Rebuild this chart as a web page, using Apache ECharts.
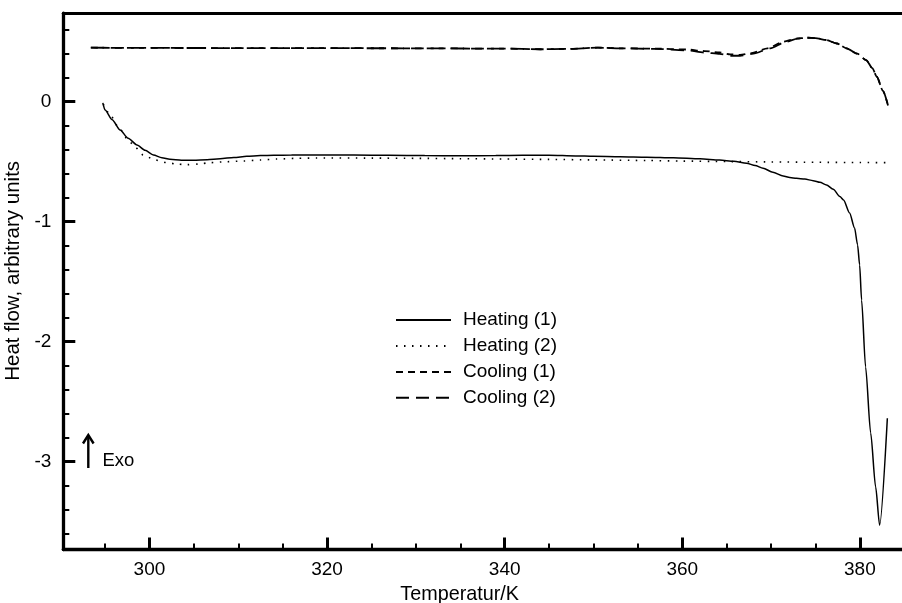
<!DOCTYPE html>
<html>
<head>
<meta charset="utf-8">
<script src="https://cdn.jsdelivr.net/npm/echarts@6/dist/echarts.min.js"></script>
<style>html,body{margin:0;padding:0;background:#fff;}#c{width:902px;height:603px;}</style>
</head>
<body>
<div id="c"></div>
<script>
// ---- data (temperature in K, heat flow in arbitrary units) ----
var heating1T = [294.75,295.0,295.8,296.7,297.6,298.6,299.5,300.45,301.4,302.3,303.6,304.95,306.5,307.96,309.5,310.96,312.5,314,316,319.2,323,327,331,335,339,342,345,348,350,353,356,359,362,364.2,365.8,367.24,368.2,369.1,370.2,371.36,372.1,372.86,373.8,374.73,375.5,376.24,377.0,377.74,378.16,378.84,379.4,379.74,379.97,380.19,380.64,381.21,381.77,382.22,383.09];
var heating1Q = [-0.01,-0.07,-0.15,-0.236,-0.305,-0.361,-0.405,-0.444,-0.467,-0.48,-0.487,-0.488,-0.483,-0.475,-0.465,-0.455,-0.449,-0.447,-0.445,-0.444,-0.445,-0.447,-0.449,-0.45,-0.449,-0.447,-0.446,-0.452,-0.455,-0.458,-0.462,-0.467,-0.476,-0.486,-0.497,-0.513,-0.532,-0.555,-0.588,-0.619,-0.632,-0.638,-0.645,-0.658,-0.672,-0.694,-0.73,-0.79,-0.819,-0.928,-1.053,-1.194,-1.36,-1.653,-2.211,-2.76,-3.21,-3.53,-2.638];

var heating2T = [294.8,295.5,296.5,297.46,298.4,299.3,300.6,301.96,303.1,304.2,305.5,306.83,308.7,310.58,312.5,314.34,316.6,318.84,325,330,335,340,345,350,356,360,365,370,375,380,382.9];
var heating2Q = [-0.02,-0.10,-0.21,-0.305,-0.38,-0.444,-0.485,-0.508,-0.52,-0.525,-0.52,-0.508,-0.5,-0.494,-0.486,-0.478,-0.472,-0.469,-0.47,-0.472,-0.475,-0.478,-0.481,-0.485,-0.49,-0.495,-0.499,-0.502,-0.505,-0.507,-0.508];

var cooling1T = [293.4,300,310,320,330,340,344,347,350.5,353,357,360.5,362.5,364.2,365.4,366.5,367.8,369.6,371.4,372.8,374,375,376.2,377.4,378.5,379.7,380.7,381.4,381.9,382.6,383.2];
var cooling1Q = [0.45,0.448,0.447,0.446,0.445,0.442,0.437,0.44,0.45,0.445,0.442,0.435,0.422,0.41,0.395,0.39,0.405,0.445,0.5,0.525,0.533,0.53,0.514,0.485,0.445,0.4,0.347,0.28,0.208,0.09,-0.042];

var cooling2T = [293.4,300,310,320,330,340,344,347,350.5,353,357,360.5,362.5,364.2,365.4,366.5,368,369.9,371.7,373,374,375,376.2,377.4,378.5,379.7,380.7,381.4,381.9,382.6,383.2];
var cooling2Q = [0.45,0.448,0.447,0.446,0.445,0.442,0.437,0.44,0.45,0.445,0.44,0.428,0.41,0.398,0.383,0.383,0.4,0.445,0.5,0.525,0.533,0.53,0.514,0.485,0.445,0.4,0.347,0.28,0.208,0.09,-0.042];

var seriesNames = ['Heating (1)','Heating (2)','Cooling (1)','Cooling (2)'];

var xMajorTicks = [300,320,340,360,380];
var xMinorTicks = [295,305,310,315,325,330,335,345,350,355,365,370,375];
var yMajorTicks = [0,-1,-2,-3];
var yMinorTicks = [0.6,0.4,0.2,-0.2,-0.4,-0.6,-0.8,-1.2,-1.4,-1.6,-1.8,-2.2,-2.4,-2.6,-2.8,-3.2,-3.4,-3.6];

var xTitle = 'Temperatur/K';
var yTitle = 'Heat flow, arbitrary units';
var annotationText = 'Exo';

// ---- build ----
function zip(a, b) { return a.map(function (v, i) { return [v, b[i]]; }); }

var FONT = '"Liberation Sans", Arial, Helvetica, sans-serif';
var X_MIN = 290.3, X_MAX = 384.74, Y_MIN = -3.732, Y_MAX = 0.7375;

var chart = echarts.init(document.getElementById('c'), null, {renderer: 'canvas'});

function lineSeries(name, t, q, type, width) {
  return {
    name: name, type: 'line', data: zip(t, q),
    xAxisIndex: 0, yAxisIndex: 0,
    symbol: 'none', showSymbol: false, smooth: 0.25, smoothMonotone: 'x', animation: false,
    lineStyle: {color: '#000', width: width, type: type, cap: 'butt'},
    itemStyle: {color: '#000'},
    emphasis: {disabled: true}
  };
}

var option = {
  backgroundColor: '#fff',
  animation: false,
  grid: {left: 63.3, right: 0, top: 13.2, bottom: 53.5, containLabel: false, outerBoundsMode: 'none'},
  xAxis: [
    {
      type: 'value', position: 'bottom', min: X_MIN, max: X_MAX,
      axisLine: {show: true, onZero: false, lineStyle: {color: '#000', width: 3.3}},
      axisTick: {show: true, inside: true, length: 12, customValues: xMajorTicks, lineStyle: {color: '#000', width: 3}},
      axisLabel: {show: true, margin: 11, customValues: xMajorTicks, color: '#000', fontFamily: FONT, fontSize: 19},
      splitLine: {show: false},
      name: xTitle, nameLocation: 'middle', nameGap: 32,
      nameTextStyle: {color: '#000', fontFamily: FONT, fontSize: 19.8, padding: [0, 46, 0, 0]}
    },
    {
      type: 'value', position: 'bottom', min: X_MIN, max: X_MAX,
      axisLine: {show: false, onZero: false},
      axisTick: {show: true, inside: true, length: 6, customValues: xMinorTicks, lineStyle: {color: '#000', width: 2}},
      axisLabel: {show: false},
      splitLine: {show: false}
    },
    {
      type: 'value', position: 'top', min: X_MIN, max: X_MAX,
      axisLine: {show: true, onZero: false, lineStyle: {color: '#000', width: 3}},
      axisTick: {show: false}, axisLabel: {show: false}, splitLine: {show: false}
    }
  ],
  yAxis: [
    {
      type: 'value', position: 'left', min: Y_MIN, max: Y_MAX,
      axisLine: {show: true, onZero: false, lineStyle: {color: '#000', width: 3.3}},
      axisTick: {show: true, inside: true, length: 12, customValues: yMajorTicks, lineStyle: {color: '#000', width: 3}},
      axisLabel: {show: true, margin: 12, customValues: yMajorTicks, color: '#000', fontFamily: FONT, fontSize: 19},
      splitLine: {show: false},
      name: yTitle, nameLocation: 'middle', nameGap: 32,
      nameTextStyle: {color: '#000', fontFamily: FONT, fontSize: 20.5, padding: [0, 0, 0, 21]}
    },
    {
      type: 'value', position: 'left', min: Y_MIN, max: Y_MAX,
      axisLine: {show: false, onZero: false},
      axisTick: {show: true, inside: true, length: 6, customValues: yMinorTicks, lineStyle: {color: '#000', width: 2}},
      axisLabel: {show: false},
      splitLine: {show: false}
    }
  ],
  legend: {
    show: true, orient: 'vertical', left: 395, top: 310.6, padding: 0,
    itemWidth: 55, itemHeight: 14, itemGap: 6.9,
    selectedMode: false,
    data: seriesNames,
    itemStyle: {opacity: 0},
    textStyle: {color: '#000', fontFamily: FONT, fontSize: 19, padding: [0, 0, 0, 7]}
  },
  series: [
    lineSeries(seriesNames[0], heating1T, heating1Q, 'solid', 1.5),
    lineSeries(seriesNames[1], heating2T, heating2Q, [1.5, 6.5], 1.6),
    lineSeries(seriesNames[2], cooling1T, cooling1Q, [7, 5], 1.8),
    lineSeries(seriesNames[3], cooling2T, cooling2Q, [13, 7], 1.8)
  ],
  graphic: [
    {type: 'line', shape: {x1: 88.3, y1: 468, x2: 88.3, y2: 437}, style: {stroke: '#000', lineWidth: 2.4}},
    {type: 'polyline', shape: {points: [[83, 443.5], [88.3, 435], [93.6, 443.5]]}, style: {stroke: '#000', lineWidth: 2.4, fill: null}},
    {type: 'text', x: 102.5, y: 461, style: {text: annotationText, fill: '#000', font: '18.5px ' + FONT, verticalAlign: 'middle', align: 'left'}}
  ]
};
chart.setOption(option);
</script>
</body>
</html>
